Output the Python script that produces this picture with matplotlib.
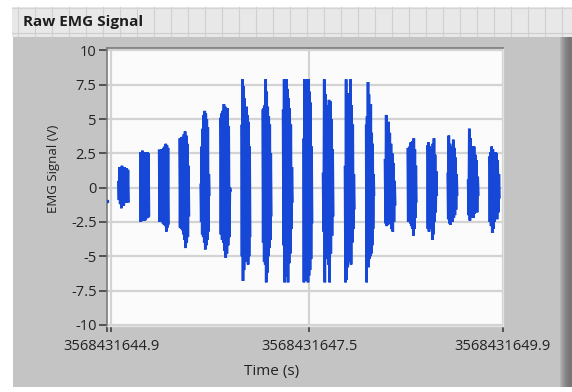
import numpy as np
import matplotlib
matplotlib.use("Agg")
import matplotlib.pyplot as plt
from matplotlib.patches import Rectangle
from matplotlib.lines import Line2D

plt.rcParams['font.family'] = ['Open Sans', 'DejaVu Sans']

# ---------------- data ----------------
x_tick_labels = ["3568431644.9", "3568431647.5", "3568431649.9"]
x_tick_pos = [0.0, 2.525, 4.99]          # seconds relative to 3568431644.9
y_ticks = [10, 7.5, 5, 2.5, 0, -2.5, -5, -7.5, -10]
y_tick_labels = ["10", "7.5", "5", "2.5", "0", "-2.5", "-5", "-7.5", "-10"]

lone_time = -0.05
lone_value = -0.95

burst_start = [0.09, 0.37, 0.61, 0.87, 1.14, 1.39, 1.66, 1.93, 2.19, 2.45,
               2.70, 2.98, 3.25, 3.49, 3.78, 4.03, 4.29, 4.55, 4.82]
burst_end = [0.22, 0.48, 0.73, 0.99, 1.25, 1.52, 1.77, 2.04, 2.31, 2.56,
             2.83, 3.10, 3.35, 3.62, 3.89, 4.15, 4.41, 4.68, 4.95]

b01 = [0.4, -0.9, 1.5, -1.2, 1.3, -1.5, 1.6, -1.0, 1.4, -1.3, 1.5, -0.9, 1.2, -1.1, 1.4, -0.8, 1.3, -1.0]
b02 = [2.5, -2.5, 2.6, -2.3, 2.7, -2.4, 2.5, -2.2, 2.6, -2.4, 2.4, -2.3, 2.5, -2.1, 2.6, -2.2, 2.5, -2.0]
b03 = [2.7, -2.5, 2.6, -2.4, 2.8, -2.5, 2.7, -2.6, 2.9, -2.7, 3.0, -2.8, 3.2, -3.2, 3.1, -2.9, 2.9, -2.6]
b04 = [3.5, -2.9, 3.6, -3.0, 3.7, -3.1, 3.6, -3.4, 3.9, -3.8, 4.1, -4.4, 3.8, -4.0, 3.2, -3.6, 1.6, -2.0]
b05 = [0.2, -2.5, 3.0, -3.4, 4.3, -3.6, 5.3, -4.0, 5.6, -4.5, 5.4, -4.2, 5.0, -3.8, 4.4, -3.2, 1.0, -0.5]
b06 = [5.0, -3.4, 5.4, -3.8, 5.6, -4.0, 6.1, -4.6, 5.9, -5.1, 5.5, -4.8, 5.8, -4.2, 4.5, -3.6, 0.0, -0.2]
b07 = [4.5, -5.0, 7.9, -6.8, 7.4, -6.0, 6.5, -4.6, 5.6, -4.9, 5.9, -5.4, 5.3, -5.6, 4.8, -5.0, 3.0, -3.5]
b08 = [5.6, -4.0, 5.8, -5.4, 6.0, -5.6, 7.9, -6.9, 7.0, -6.2, 5.9, -5.0, 5.2, -4.4, 4.6, -3.8, 2.5, -2.0]
b09 = [5.6, -4.2, 7.9, -6.9, 7.6, -6.1, 7.9, -6.5, 7.2, -6.9, 6.5, -5.5, 5.8, -4.8, 4.6, -3.0, 1.5, -1.0]
b10 = [3.5, -6.9, 7.9, -6.7, 7.9, -6.8, 7.9, -6.5, 7.5, -6.9, 7.9, -6.4, 7.0, -6.0, 6.2, -5.2, 3.0, -2.5]
b11 = [1.0, -3.2, 7.9, -6.9, 6.8, -5.2, 6.0, -4.8, 5.5, -5.6, 6.4, -6.9, 6.3, -4.8, 5.0, -3.5, 2.8, -2.0]
b12 = [1.5, -6.9, 7.9, -6.7, 6.9, -5.8, 5.7, -5.0, 6.2, -5.4, 7.9, -5.6, 6.0, -4.0, 4.6, -3.0, 1.0, -1.5]
b13 = [4.5, -6.9, 5.2, -5.6, 7.7, -5.8, 6.8, -5.2, 5.5, -5.0, 6.1, -4.8, 4.0, -4.2, 3.2, -3.0, 1.0, -0.5]
b14 = [2.0, -2.6, 5.3, -2.8, 4.6, -2.7, 4.8, -2.5, 4.0, -2.6, 3.2, -3.0, 2.5, -3.2, 1.8, -2.5, 0.5, -1.2]
b15 = [2.8, -2.5, 2.9, -2.4, 3.0, -2.6, 3.3, -2.8, 3.1, -3.0, 3.4, -3.5, 3.6, -3.0, 2.8, -2.2, 1.6, -1.0]
b16 = [3.0, -3.0, 3.3, -3.2, 3.0, -2.6, 2.6, -3.0, 2.8, -3.8, 3.2, -3.4, 3.6, -2.5, 2.4, -1.8, 1.2, -0.5]
b17 = [1.0, -2.3, 3.8, -2.6, 3.2, -2.7, 3.0, -2.4, 2.5, -2.5, 3.5, -2.2, 2.9, -2.0, 2.2, -1.6, 1.0, -0.5]
b18 = [0.5, -2.0, 4.3, -2.4, 3.6, -2.2, 3.0, -1.8, 2.5, -2.2, 3.0, -1.9, 2.4, -1.5, 2.0, -1.8, 0.8, -0.5]
b19 = [2.2, -2.5, 2.6, -2.8, 3.0, -3.3, 2.8, -3.0, 2.4, -2.5, 2.6, -2.2, 2.5, -2.3, 2.0, -1.8, 1.0, -0.7]
bursts = [b01, b02, b03, b04, b05, b06, b07, b08, b09, b10,
          b11, b12, b13, b14, b15, b16, b17, b18, b19]

# assemble the signal (NaN between bursts: no samples there)
ts, vs = [], []
for s, e, vals in zip(burst_start, burst_end, bursts):
    ts.extend(np.linspace(s, e, len(vals)).tolist()); vs.extend(vals)
    ts.append(np.nan); vs.append(np.nan)
ts = np.array(ts); vs = np.array(vs)

# ---------------- figure ----------------
W, H = 572, 392
fig = plt.figure(figsize=(W / 100, H / 100), dpi=100)
fig.patch.set_facecolor('white')

def px_rect(x0, y0, x1, y1, color, z=0):
    fig.patches.append(Rectangle((x0 / W, 1 - y1 / H), (x1 - x0) / W, (y1 - y0) / H,
                                 transform=fig.transFigure, facecolor=color,
                                 edgecolor='none', zorder=z))

def px_line(x0, y0, x1, y1, color, lw=1.0, z=1):
    fig.lines.append(Line2D([x0 / W, x1 / W], [1 - y0 / H, 1 - y1 / H],
                            transform=fig.transFigure, color=color, lw=lw, zorder=z))

# top grid strip
px_rect(12, 7, W, 37, '#e8e8e8', 0)
for gx in range(18, W, 17):
    px_line(gx, 7, gx, 37, '#d0d0d0', 0.8, 1)
px_line(12, 8, W, 8, '#d4d4d4', 0.8, 1)
px_line(12, 33, W, 33, '#cdcdcd', 0.8, 1)

# panel
px_rect(13, 37, W, 387, '#c4c4c4', 2)
shades = ['#b4b4b4', '#a8a8a8', '#9e9e9e', '#969696', '#8e8e8e', '#888888',
          '#828282', '#7e7e7e', '#7a7a7a', '#787878', '#767676', '#767676']
for i, c in enumerate(shades):
    px_rect(560 + i, 37, 561 + i, 387, c, 3)

fig.text(23 / W, 1 - 22 / H, "Raw EMG Signal", fontsize=11, fontweight='bold',
         color='#1e1e1e', ha='left', va='center', zorder=5)

# axes
ax_l, ax_r, ax_t, ax_b = 107, 503, 48, 326
ax = fig.add_axes([ax_l / W, 1 - ax_b / H, (ax_r - ax_l) / W, (ax_b - ax_t) / H])
ax.set_zorder(5)
ax.set_facecolor('#fbfbfb')
ax.set_xlim(-0.055, 4.995)
ax.set_ylim(-10.08, 10.18)

ax.plot(ts, vs, color='#1747d6', lw=1.9, solid_joinstyle='miter', zorder=3)
ax.plot([lone_time], [lone_value], marker='s', ms=1.6, color='#1747d6', zorder=3)

ax.set_yticks(y_ticks)
ax.set_yticklabels(y_tick_labels)
ax.set_xticks(x_tick_pos)
ax.set_xticklabels(x_tick_labels)
ax.set_xticks([-0.05], minor=True)
ax.grid(True, color='#d3d3d3', lw=1.6, zorder=0)
ax.tick_params(axis='y', length=5.5, width=1.1, color='#333333', pad=2,
               labelsize=10.5, labelcolor='#222222')
ax.tick_params(axis='x', which='both', length=4.5, width=1.1, color='#333333', pad=5,
               labelsize=10.5, labelcolor='#222222')
for side in ['top', 'left']:
    ax.spines[side].set_color('#7a7a7a'); ax.spines[side].set_linewidth(1.2)
for side in ['right', 'bottom']:
    ax.spines[side].set_color('#e2e2e2'); ax.spines[side].set_linewidth(1.0)

fig.text(272 / W, 1 - 372 / H, "Time (s)", fontsize=11, color='#222222',
         ha='center', va='center', zorder=5)
fig.text(54 / W, 1 - 169 / H, "EMG Signal (V)", fontsize=9.5, color='#222222',
         rotation=90, ha='center', va='center', zorder=5)

fig.savefig('out.png', dpi=100, facecolor=fig.get_facecolor())
